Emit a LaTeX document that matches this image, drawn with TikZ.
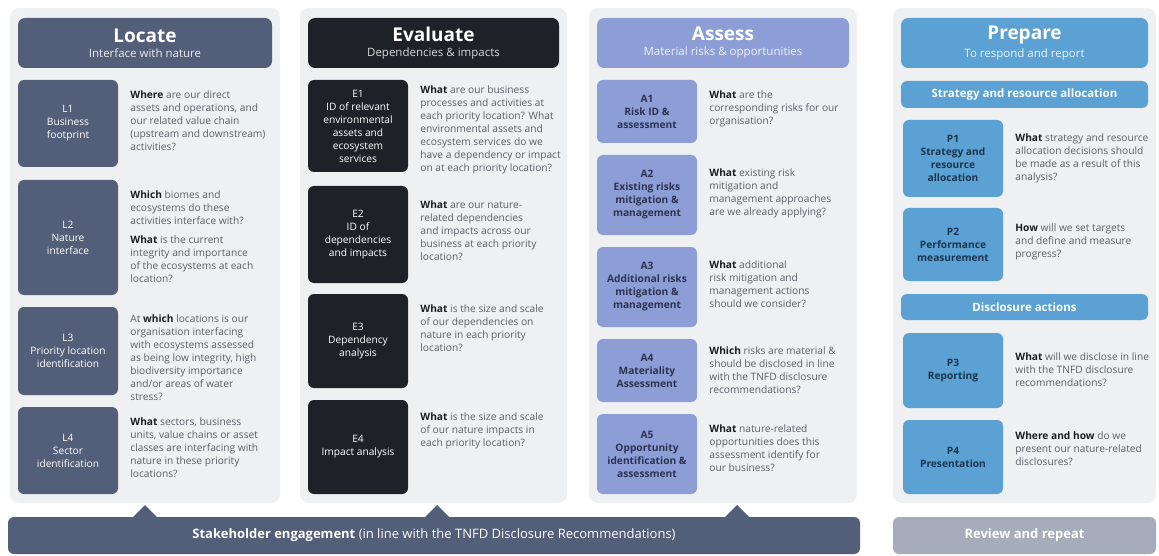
\documentclass[tikz,border=0pt]{standalone}
\usepackage{fontspec}
\setmainfont{Open Sans}
\usetikzlibrary{positioning}

\definecolor{panelc}{HTML}{EEF0F2}
\definecolor{locc}{HTML}{535E78}
\definecolor{evac}{HTML}{1F2128}
\definecolor{assc}{HTML}{8D9ED6}
\definecolor{prec}{HTML}{5BA1D3}
\definecolor{revc}{HTML}{A7ACBA}
\definecolor{txtc}{HTML}{5C5F66}
\definecolor{darkc}{HTML}{1C1D22}
\definecolor{assdark}{HTML}{2C3352}
\definecolor{predark}{HTML}{1B3550}

\newcommand{\lead}[1]{\textbf{\color{darkc}#1}}
\newcommand{\headfont}{\fontsize{19}{22}\selectfont\bfseries}
\newcommand{\subfont}{\fontsize{11.5}{14}\selectfont\mdseries}

\begin{document}
\begin{tikzpicture}[x=1pt,y=-1pt,
    panel/.style={fill=panelc, rounded corners=9pt},
    head/.style={rounded corners=7pt, text=white, align=center, inner sep=0pt, minimum height=50pt},
    bar/.style={rounded corners=6pt, text=white, inner sep=0pt, font=\fontsize{11.5}{14}\selectfont\bfseries},
    stepbox/.style={rounded corners=6pt, minimum width=100pt, inner sep=0pt, align=center, font=\fontsize{10.2}{13}\selectfont},
    locbox/.style={stepbox, fill=locc, text=white},
    evabox/.style={stepbox, fill=evac, text=white},
    assbox/.style={stepbox, fill=assc, text=assdark, font=\fontsize{10.2}{13}\selectfont\bfseries},
    prebox/.style={stepbox, fill=prec, text=predark, font=\fontsize{10.2}{13}\selectfont\bfseries},
    qtext/.style={align=left, inner sep=0pt, text=txtc, font=\fontsize{10.2}{13}\selectfont},
    foot/.style={rounded corners=6pt, inner sep=0pt, minimum height=37pt, text=white, font=\fontsize{13}{15}\selectfont}]

\fill[white] (0,0) rectangle (1159,556);
\useasboundingbox (0,0) rectangle (1159,556);

% column panels
\foreach \a/\b in {10/280,300/567,589/857,893/1156}
    \fill[panel] (\a,8) rectangle (\b,503);

% headers
\node[head, fill=locc, minimum width=254pt] (hL) at (145,43)
    {\headfont Locate\\[3pt] \subfont\color{white!88!locc} Interface with nature};
\node[head, fill=evac, minimum width=251pt] (hE) at (433.5,43)
    {\headfont Evaluate\\[3pt] \subfont\color{white!82!evac} Dependencies \& impacts};
\node[head, fill=assc, minimum width=252pt] (hA) at (723,43)
    {\headfont Assess\\[3pt] \subfont\color{white!85!assc} Material risks \& opportunities};
\node[head, fill=prec, minimum width=247pt] (hP) at (1024.5,43)
    {\headfont Prepare\\[3pt] \subfont\color{white!88!prec} To respond and report};

% Locate
\node[locbox, minimum height=87pt] (L1) at (68,123.5) {L1\\Business\\footprint};
\node[locbox, minimum height=115pt] (L2) at (68,237.5) {L2\\Nature\\interface};
\node[locbox, minimum height=88pt] (L3) at (68,351) {L3\\Priority location\\identification};
\node[locbox, minimum height=87pt] (L4) at (68,450.5) {L4\\Sector\\identification};

\node[qtext, below right=11pt and 12pt of L1.north east] (qL1)
    {\lead{Where} are our direct\\assets and operations, and\\our related value chain\\(upstream and downstream)\\activities?};
\node[qtext, below right=11pt and 12pt of L2.north east] (qL2)
    {\lead{Which} biomes and\\ecosystems do these\\activities interface with?\\[6pt]\lead{What} is the current\\integrity and importance\\of the ecosystems at each\\location?};
\node[qtext, below right=8pt and 12pt of L3.north east] (qL3)
    {At \lead{which} locations is our\\organisation interfacing\\with ecosystems assessed\\as being low integrity, high\\biodiversity importance\\and/or areas of water\\stress?};
\node[qtext, below right=11pt and 12pt of L4.north east] (qL4)
    {\lead{What} sectors, business\\units, value chains or asset\\classes are interfacing with\\nature in these priority\\locations?};

% Evaluate
\node[evabox, minimum height=92pt] (E1) at (358,126) {E1\\ID of relevant\\environmental\\assets and\\ecosystem\\services};
\node[evabox, minimum height=97pt] (E2) at (358,234.5) {E2\\ID of\\dependencies\\and impacts};
\node[evabox, minimum height=94pt] (E3) at (358,341) {E3\\Dependency\\analysis};
\node[evabox, minimum height=94pt] (E4) at (358,447) {E4\\Impact analysis};

\node[qtext, below right=6pt and 12pt of E1.north east] (qE1)
    {\lead{What} are our business\\processes and activities at\\each priority location? What\\environmental assets and\\ecosystem services do we\\have a dependency or impact\\on at each priority location?};
\node[qtext, below right=15pt and 12pt of E2.north east] (qE2)
    {\lead{What} are our nature-\\related dependencies\\and impacts across our\\business at each priority\\location?};
\node[qtext, below right=11pt and 12pt of E3.north east] (qE3)
    {\lead{What} is the size and scale\\of our dependencies on\\nature in each priority\\location?};
\node[qtext, below right=13pt and 12pt of E4.north east] (qE4)
    {\lead{What} is the size and scale\\of our nature impacts in\\each priority location?};

% Assess
\node[assbox, minimum height=63pt] (A1) at (647,111.5) {A1\\Risk ID \&\\assessment};
\node[assbox, minimum height=80pt] (A2) at (647,195) {A2\\Existing risks\\mitigation \&\\management};
\node[assbox, minimum height=80pt] (A3) at (647,287) {A3\\Additional risks\\mitigation \&\\management};
\node[assbox, minimum height=63pt] (A4) at (647,370.5) {A4\\Materiality\\Assessment};
\node[assbox, minimum height=80pt] (A5) at (647,454) {A5\\Opportunity\\identification \&\\assessment};

\node[qtext, below right=11pt and 12pt of A1.north east] (qA1)
    {\lead{What} are the\\corresponding risks for our\\organisation?};
\node[qtext, below right=14pt and 12pt of A2.north east] (qA2)
    {\lead{What} existing risk\\mitigation and\\management approaches\\are we already applying?};
\node[qtext, below right=14pt and 12pt of A3.north east] (qA3)
    {\lead{What} additional\\risk mitigation and\\management actions\\should we consider?};
\node[qtext, below right=8pt and 12pt of A4.north east] (qA4)
    {\lead{Which} risks are material \&\\should be disclosed in line\\with the TNFD disclosure\\recommendations?};
\node[qtext, below right=11pt and 12pt of A5.north east] (qA5)
    {\lead{What} nature-related\\opportunities does this\\assessment identify for\\our business?};

% Prepare
\node[bar, fill=prec, minimum width=247pt, minimum height=27pt] (sP) at (1024.5,94.5) {Strategy and resource allocation};
\node[prebox, minimum height=77pt] (P1) at (953,158.5) {P1\\Strategy and\\resource\\allocation};
\node[prebox, minimum height=73pt] (P2) at (953,244.5) {P2\\Performance\\measurement};
\node[bar, fill=prec, minimum width=247pt, minimum height=26pt] (dP) at (1024.5,307) {Disclosure actions};
\node[prebox, minimum height=75pt] (P3) at (953,370.5) {P3\\Reporting};
\node[prebox, minimum height=74pt] (P4) at (953,457) {P4\\Presentation};

\node[qtext, below right=14pt and 12pt of P1.north east] (qP1)
    {\lead{What} strategy and resource\\allocation decisions should\\be made as a result of this\\analysis?};
\node[qtext, below right=16pt and 12pt of P2.north east] (qP2)
    {\lead{How} will we set targets\\and define and measure\\progress?};
\node[qtext, below right=20pt and 12pt of P3.north east] (qP3)
    {\lead{What} will we disclose in line\\with the TNFD disclosure\\recommendations?};
\node[qtext, below right=12pt and 12pt of P4.north east] (qP4)
    {\lead{Where and how} do we\\present our nature-related\\disclosures?};

% bottom bars
\foreach \x in {145,437,737}
    \fill[locc] (\x-14,519) -- (\x,505) -- (\x+14,519) -- cycle;
\node[foot, fill=locc, minimum width=852pt] (sb) at (434,535.5)
    {\textbf{Stakeholder engagement} (in line with the TNFD Disclosure Recommendations)};
\node[foot, fill=revc, minimum width=263pt, font=\fontsize{13}{15}\selectfont\bfseries] (rb) at (1024.5,535.5)
    {Review and repeat};

\end{tikzpicture}
\end{document}
